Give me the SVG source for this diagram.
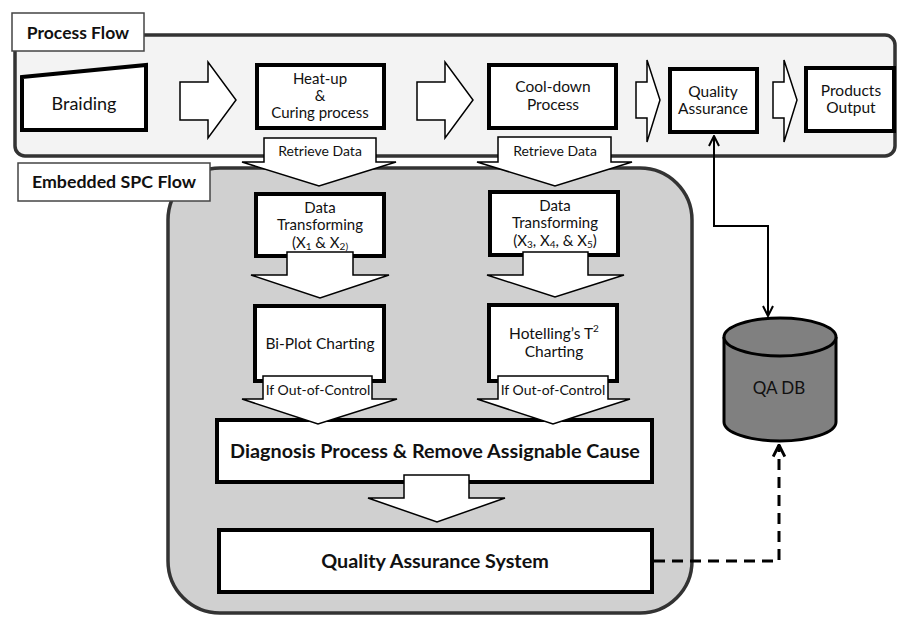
<svg xmlns="http://www.w3.org/2000/svg" width="898" height="617" viewBox="0 0 898 617">
<defs>
<style>
text{font-family:Lato,"Open Sans","Liberation Sans",sans-serif;fill:#111;text-anchor:middle}
.t{font-size:15.5px}
.m{font-size:15px}
.b{font-weight:bold}
.s{font-size:14px}
.box{fill:#fff;stroke:#000;stroke-width:4}
.blk{fill:#fff;stroke:#000;stroke-width:1.5;stroke-linejoin:miter}
.lbl{fill:#fff;stroke:#444;stroke-width:1.5}
.con{fill:none;stroke:#000;stroke-width:2}
.dash{fill:none;stroke:#000;stroke-width:3;stroke-dasharray:11 7}
</style>
<marker id="ah" viewBox="0 0 12 12" refX="11" refY="6" markerWidth="12" markerHeight="12" markerUnits="userSpaceOnUse" orient="auto-start-reverse">
<path d="M1,1 L11,6 L1,11" fill="none" stroke="#000" stroke-width="2"/>
</marker>
<marker id="ah2" viewBox="0 0 12 12" refX="11" refY="6" markerWidth="14" markerHeight="14" markerUnits="userSpaceOnUse" orient="auto">
<path d="M1,1 L11,6 L1,11" fill="none" stroke="#000" stroke-width="2.5"/>
</marker>
</defs>

<g id="process-flow-area">
<rect x="15" y="35" width="880" height="121" rx="10" fill="#f3f3f3" stroke="#333" stroke-width="3.5"/>
</g>
<g id="spc-flow-area">
<rect x="168" y="168" width="524" height="445" rx="52" fill="#d0d0d0" stroke="#333" stroke-width="3.5"/>
</g>
<g id="label-process-flow">
<rect class="lbl" x="12" y="13" width="132" height="38"/>
<text class="b" x="78" y="39" style="font-size:17.5px">Process Flow</text>
</g>
<g id="label-spc-flow">
<rect class="lbl" x="18" y="163" width="192" height="38"/>
<text class="b" x="114" y="188" style="font-size:17.8px">Embedded SPC Flow</text>
</g>

<g id="braiding">
<polygon class="box" points="22,77 146,65 146,130 22,130"/>
<text x="84" y="110" style="font-size:18px">Braiding</text>
</g>
<g id="heatup">
<rect class="box" x="257" y="65" width="127" height="63"/>
<text class="m" x="320" y="84">Heat-up</text>
<text class="m" x="320" y="101">&amp;</text>
<text class="m" x="320" y="118">Curing process</text>
</g>
<g id="cooldown">
<rect class="box" x="489" y="65" width="127" height="63"/>
<text class="t" x="553" y="92">Cool-down</text>
<text class="t" x="553" y="110">Process</text>
</g>
<g id="qa">
<rect class="box" x="670" y="69" width="87" height="63"/>
<text class="t" x="713" y="97">Quality</text>
<text class="t" x="713" y="114">Assurance</text>
</g>
<g id="products">
<rect class="box" x="806" y="68" width="88" height="63"/>
<text class="t" x="851" y="96">Products</text>
<text class="t" x="851" y="113">Output</text>
</g>

<g id="dt1">
<rect class="box" x="256" y="194" width="128" height="62"/>
<text class="m" x="320" y="213">Data</text>
<text class="m" x="320" y="230">Transforming</text>
<text class="m" x="320" y="248">(X<tspan font-size="10" dy="2">1</tspan><tspan dy="-2"> &amp; X</tspan><tspan font-size="10" dy="2">2)</tspan></text>
</g>
<g id="dt2">
<rect class="box" x="490" y="192" width="128" height="63"/>
<text class="m" x="555" y="211">Data</text>
<text class="m" x="555" y="228">Transforming</text>
<text class="m" x="555" y="246">(X<tspan font-size="10" dy="2">3</tspan><tspan dy="-2">, X</tspan><tspan font-size="10" dy="2">4</tspan><tspan dy="-2">, &amp; X</tspan><tspan font-size="10" dy="2">5</tspan><tspan dy="-2">)</tspan></text>
</g>
<g id="biplot">
<rect class="box" x="255" y="306" width="129" height="75"/>
<text class="t" x="320" y="349">Bi-Plot Charting</text>
</g>
<g id="hotelling">
<rect class="box" x="489" y="305" width="128" height="76"/>
<text class="t" x="554" y="339">Hotelling’s T<tspan font-size="10" dy="-7">2</tspan></text>
<text class="t" x="554" y="357">Charting</text>
</g>
<g id="diagnosis">
<rect class="box" x="217" y="420" width="435" height="62"/>
<text class="b" x="435" y="458" style="font-size:19.8px">Diagnosis Process &amp; Remove Assignable Cause</text>
</g>
<g id="qas">
<rect class="box" x="219" y="530" width="433" height="62"/>
<text class="b" x="435" y="568" style="font-size:19.8px">Quality Assurance System</text>
</g>
<g id="qadb">
<path d="M724,337 V422 A56,19 0 0 0 836,422 V337" fill="#808080" stroke="#000" stroke-width="3"/>
<ellipse cx="780" cy="337" rx="56" ry="19" fill="#808080" stroke="#000" stroke-width="3"/>
<text x="779" y="394" style="font-size:17px">QA DB</text>
</g>

<g id="connectors">
<polygon class="blk" points="180,82 208,82 208,62 236,100 208,138 208,120 180,120"/>
<polygon class="blk" points="417,82 445,82 445,62 473,100 445,138 445,120 417,120"/>
<polygon class="blk" points="636,82 647,82 647,60 660,100 647,142 647,118 636,118"/>
<polygon class="blk" points="773,82 784,82 784,60 797,100 784,142 784,118 773,118"/>

<polygon class="blk" points="264,138 376,138 376,162 396,162 319,186 242,162 264,162"/>
<text class="s" x="320" y="156">Retrieve Data</text>
<polygon class="blk" points="498,137 611,137 611,162 632,162 555,186 477,162 498,162"/>
<text class="s" x="555" y="156">Retrieve Data</text>

<polygon class="blk" points="287,252 353,252 353,275 389,275 320,298 251,275 287,275"/>
<polygon class="blk" points="523,252 588,252 588,275 624,275 555,297 487,275 523,275"/>

<polygon class="blk" points="263,376 372,376 372,399 397,399 318,424 242,399 263,399"/>
<text class="s" x="318" y="395">If Out-of-Control</text>
<polygon class="blk" points="498,376 608,376 608,399 630,399 553,424 477,399 498,399"/>
<text class="s" x="553" y="395">If Out-of-Control</text>

<polygon class="blk" points="404,475 469,475 469,498 505,498 437,522 368,498 404,498"/>

<path class="con" d="M714,136 V226 H768 V316" marker-start="url(#ah)" marker-end="url(#ah)"/>
<path class="dash" d="M654,561 H779 V445" marker-end="url(#ah2)"/>
</g>
</svg>
